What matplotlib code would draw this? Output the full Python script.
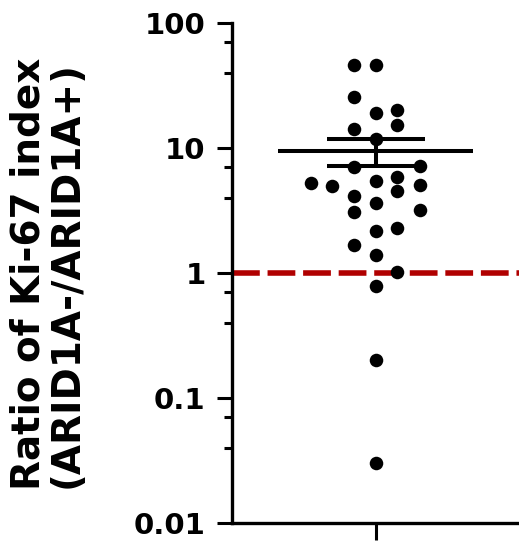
import numpy as np
import matplotlib
matplotlib.use('Agg')
import matplotlib.pyplot as plt
from matplotlib.ticker import LogLocator, NullFormatter, FixedLocator

# ratio values, with their horizontal column offset
ratios = [46, 46, 25.7, 19.2, 20.1, 15.3, 14.1, 11.7, 7.0, 7.2,
          5.2, 5.0, 5.4, 5.9, 4.5, 5.1, 4.1, 3.05, 3.6, 3.2,
          2.18, 2.28, 1.67, 1.39, 1.02, 0.79, 0.2, 0.03]
offsets = [-0.15, 0.0, -0.15, 0.0, 0.15, 0.15, -0.15, 0.0, -0.15, 0.31,
           -0.45, -0.30, 0.0, 0.15, 0.15, 0.31, -0.15, -0.15, 0.0, 0.31,
           0.0, 0.15, -0.15, 0.0, 0.15, 0.0, 0.0, 0.0]
yticks = [0.01, 0.1, 1, 10, 100]
ytick_labels = ['0.01', '0.1', '1', '10', '100']
ylabel = 'Ratio of Ki-67 index\n(ARID1A-/ARID1A+)'

vals = np.array(ratios)
mean = vals.mean()
sem = vals.std(ddof=1) / np.sqrt(len(vals))

fig = plt.figure(figsize=(5.19, 5.42), dpi=100)
ax = fig.add_axes([232 / 519, 1 - 523 / 542, 1 - 232 / 519, 500 / 542])

ax.set_yscale('log')
ax.set_ylim(0.01, 100)
ax.set_xlim(-1, 1)

# reference line at ratio 1
ax.axhline(1, color='#b00000', lw=4, dashes=(5.0, 1.4), zorder=2)

# mean and sem
ax.hlines(mean, -0.68, 0.68, color='black', lw=2.9, zorder=3)
ax.errorbar(0, mean, yerr=[[sem], [sem]], fmt='none', ecolor='black',
            elinewidth=2.9, capsize=35, capthick=2.9, zorder=3)

ax.scatter(offsets, ratios, s=95, color='black', zorder=4, linewidths=0)

for s in ['top', 'right']:
    ax.spines[s].set_visible(False)
for s in ['left', 'bottom']:
    ax.spines[s].set_linewidth(2.4)

ax.yaxis.set_major_locator(FixedLocator(yticks))
ax.set_yticklabels(ytick_labels)
ax.yaxis.set_minor_locator(LogLocator(base=10, subs=(4, 7)))
ax.yaxis.set_minor_formatter(NullFormatter())
ax.tick_params(axis='y', which='major', length=11, width=2.2, pad=8,
               labelsize=21)
ax.tick_params(axis='y', which='minor', length=5.5, width=2.2)
for lab in ax.get_yticklabels():
    lab.set_fontweight('bold')
    lab.set_family('DejaVu Sans')

ax.set_xticks([0])
ax.set_xticklabels([''])
ax.tick_params(axis='x', length=12, width=2.2)

fig.text(48 / 519, 1 - 274 / 542, ylabel, rotation=90, ha='center',
         va='center', fontsize=28, fontweight='bold', family='DejaVu Sans',
         multialignment='center', linespacing=1.0)

fig.savefig('out.png', dpi=100)
